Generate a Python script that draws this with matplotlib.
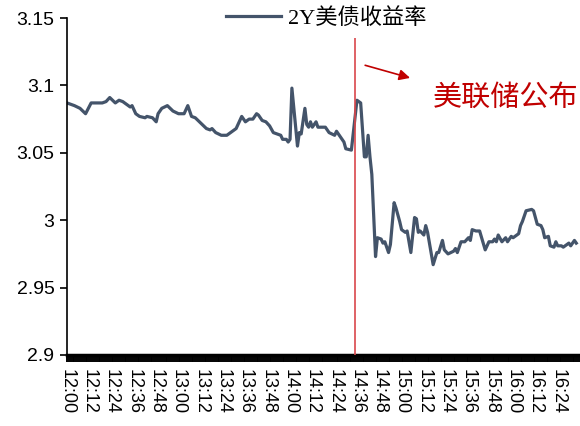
import matplotlib

matplotlib.use("Agg")
import matplotlib.pyplot as plt
from matplotlib.ticker import FixedLocator, MultipleLocator

plt.rcParams["font.family"] = ["Liberation Sans", "Noto Sans CJK SC"]

# minutes after 12:00 and 2Y treasury yield
minutes = [
    0, 4, 7, 10, 13, 19, 21, 23, 26, 28, 30, 34, 35, 37, 39, 42, 43, 46, 48, 49,
    51, 54, 57, 60, 63, 65, 67, 69, 72, 75, 77, 78, 80, 83, 86, 89, 91, 94, 96, 98,
    100, 102, 103, 105, 107, 109, 111, 113, 115, 116, 118, 119, 120, 121, 124, 125,
    126, 128, 129, 130, 131, 132, 134, 135, 139, 141, 144, 145, 147, 149, 150, 153,
    156, 158, 160, 161, 162, 163, 164, 166, 167, 169, 170, 171, 173, 174, 176, 177,
    179, 180, 182, 183, 185, 187, 188, 189, 190, 192, 193, 194, 197, 199, 200, 202,
    203, 205, 208, 209, 210, 212, 214, 216, 217, 218, 220, 222, 225, 227, 229, 230,
    231, 232, 234, 236, 237, 239, 240, 242, 243, 244, 245, 247, 250, 251, 253, 255,
    256, 257, 259, 260, 262, 263, 264, 266, 267, 270, 271, 273, 274,
]
yield_2y = [
    3.087, 3.085, 3.083, 3.079, 3.087, 3.087, 3.088, 3.091, 3.087, 3.089, 3.088,
    3.084, 3.085, 3.079, 3.077, 3.076, 3.077, 3.076, 3.073, 3.079,
    3.083, 3.085, 3.081, 3.079, 3.079, 3.085, 3.077, 3.076, 3.072, 3.068, 3.067,
    3.068, 3.065, 3.063, 3.063, 3.066, 3.068, 3.077, 3.073, 3.075,
    3.075, 3.079, 3.078, 3.074, 3.073, 3.070, 3.065, 3.064, 3.063, 3.060, 3.060,
    3.058, 3.060, 3.098, 3.055, 3.065,
    3.064, 3.083, 3.071, 3.069, 3.073, 3.069, 3.073, 3.069, 3.069, 3.065, 3.063,
    3.066, 3.062, 3.058, 3.053, 3.052,
    3.089, 3.087, 3.047, 3.047, 3.063, 3.047, 3.034, 2.973, 2.987, 2.986, 2.983,
    2.984, 2.976, 2.982, 3.013, 3.009,
    2.999, 2.993, 2.991, 2.992, 2.976, 3.002, 3.001, 2.991, 2.992, 2.989, 2.996,
    2.991, 2.967, 2.976, 2.976, 2.985,
    2.978, 2.975, 2.977, 2.979, 2.976, 2.984, 2.984, 2.987, 2.985, 2.993, 2.992,
    2.992, 2.978, 2.984, 2.984, 2.986,
    2.984, 2.989, 2.984, 2.987, 2.984, 2.988, 2.987, 2.989, 2.990, 2.996, 2.999,
    3.007, 3.008, 3.007, 2.997, 2.996,
    2.993, 2.987, 2.988, 2.981, 2.980, 2.984, 2.981, 2.981, 2.980, 2.983, 2.981,
    2.985, 2.983,
]
tick_labels = [
    "12:00", "12:12", "12:24", "12:36", "12:48", "13:00", "13:12", "13:24",
    "13:36", "13:48", "14:00", "14:12", "14:24", "14:36", "14:48", "15:00",
    "15:12", "15:24", "15:36", "15:48", "16:00", "16:12", "16:24",
]
y_ticks = [2.9, 2.95, 3.0, 3.05, 3.1, 3.15]
y_labels = ["2.9", "2.95", "3", "3.05", "3.1", "3.15"]
fed_minute = 155  # 美联储公布 (14:35)

fig = plt.figure(figsize=(5.8, 4.26), dpi=100)
ax = fig.add_axes([0.1155, 0.1667, 0.8845, 0.791])

line, = ax.plot(minutes, yield_2y, color="#44546A", lw=2.3, solid_joinstyle="round")
ax.vlines(fed_minute, 2.9, 3.135, color="#D9474B", lw=1.2, zorder=3)

ax.set_xlim(0, 276)
ax.set_ylim(2.9, 3.15)
ax.xaxis.set_major_locator(FixedLocator(range(0, 12 * len(tick_labels), 12)))
ax.set_xticklabels(tick_labels, rotation=270, fontsize=13)
ax.xaxis.set_minor_locator(MultipleLocator(1))
ax.tick_params(axis="x", which="both", length=5, width=1.4, direction="out", pad=5)
ax.yaxis.set_major_locator(FixedLocator(y_ticks))
ax.set_yticklabels(y_labels, fontsize=14)
ax.tick_params(axis="y", length=5, width=1.2, direction="out", pad=4)

for side in ("top", "right"):
    ax.spines[side].set_visible(False)
ax.spines["left"].set_linewidth(1.2)
ax.spines["bottom"].set_linewidth(2.5)

ax.annotate(
    "",
    xy=(0.674, 0.82),
    xytext=(0.576, 0.862),
    xycoords="axes fraction",
    arrowprops=dict(arrowstyle="-|>", color="#C00000", lw=1.2, mutation_scale=16),
)
ax.text(0.713, 0.763, "美联储公布", transform=ax.transAxes, color="#C00000",
        fontsize=21, va="center", ha="left", family=["Noto Sans CJK SC"])

fig.legend(
    [line],
    ["2Y美债收益率"],
    loc="center",
    bbox_to_anchor=(0.562, 0.956),
    frameon=False,
    handlelength=2.5,
    handletextpad=0.3,
    prop={"family": ["Liberation Serif", "Noto Sans CJK SC"], "size": 16},
)

fig.savefig("out.png", dpi=100)
